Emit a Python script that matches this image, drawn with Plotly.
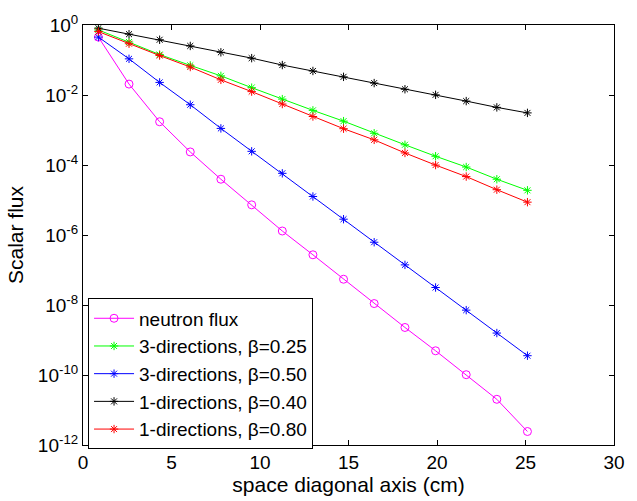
import plotly.graph_objects as go

# x positions along the space diagonal (cm)
x_cm = [0.87, 2.60, 4.33, 6.06, 7.79, 9.53, 11.26, 12.99, 14.72, 16.45,
        18.19, 19.92, 21.65, 23.38, 25.11]

neutron_flux = [0.45, 2.05e-2, 1.72e-3, 2.36e-4, 3.92e-5, 7.28e-6, 1.30e-6,
                2.72e-7, 5.45e-8, 1.10e-8, 2.28e-9, 4.92e-10, 1.02e-10,
                2.02e-11, 2.43e-12]
dir3_b025 = [0.723, 0.326, 0.143, 0.0703, 0.0352, 0.0162, 7.63e-3, 3.64e-3,
             1.79e-3, 8.07e-4, 3.78e-4, 1.78e-4, 8.75e-5, 3.92e-5, 1.89e-5]
dir3_b050 = [0.451, 0.108, 0.0229, 5.27e-3, 1.11e-3, 2.46e-4, 5.78e-5,
             1.26e-5, 2.83e-6, 6.22e-7, 1.40e-7, 3.16e-8, 7.13e-9, 1.58e-9,
             3.56e-10]
dir1_b040 = [0.81, 0.547, 0.379, 0.252, 0.166, 0.113, 0.0717, 0.0486, 0.033,
             0.0219, 0.0146, 0.0101, 6.7e-3, 4.43e-3, 3.08e-3]
dir1_b080 = [0.648, 0.292, 0.134, 0.063, 0.0271, 0.0125, 5.52e-3, 2.43e-3,
             1.09e-3, 5.23e-4, 2.21e-4, 9.95e-5, 4.67e-5, 1.97e-5, 8.67e-6]

series_names = ["neutron flux", "3-directions, \u03b2=0.25",
                "3-directions, \u03b2=0.50", "1-directions, \u03b2=0.40",
                "1-directions, \u03b2=0.80"]
series_data = [neutron_flux, dir3_b025, dir3_b050, dir1_b040, dir1_b080]
series_colors = ["#FF00FF", "#00FF00", "#0000FF", "#000000", "#FF0000"]
series_symbols = ["circle-open", "asterisk-open", "asterisk-open",
                  "asterisk-open", "asterisk-open"]
series_sizes = [8, 7, 7, 7, 7]

x_ticks = [0, 5, 10, 15, 20, 25, 30]
y_exps = [0, -2, -4, -6, -8, -10, -12]

FONT = "Arial, Liberation Sans, sans-serif"

fig = go.Figure()
for name, ys, col, sym, sz in zip(series_names, series_data, series_colors,
                                  series_symbols, series_sizes):
    fig.add_trace(go.Scatter(
        x=x_cm, y=ys, name=name, mode="lines+markers",
        legendgroup=name,
        line=dict(color=col, width=1),
        marker=dict(symbol=sym, size=sz, color=col, line=dict(color=col, width=1)),
    ))

fig.update_layout(
    width=637, height=501,
    margin=dict(l=83, r=12, t=20, b=54),
    paper_bgcolor="white", plot_bgcolor="white",
    font=dict(family=FONT, size=19, color="black"),
    showlegend=True,
    legend=dict(
        x=0.0095, y=0.349, xanchor="left", yanchor="top",
        bgcolor="white", bordercolor="black", borderwidth=1,
        font=dict(family=FONT, size=19, color="black"),
        tracegroupgap=0, itemwidth=40,
    ),
    xaxis=dict(
        range=[0, 30], tickvals=x_ticks, ticktext=[str(v) for v in x_ticks],
        showline=True, linecolor="black", linewidth=1, mirror="ticks",
        ticks="inside", ticklen=5, tickcolor="black",
        showgrid=False, zeroline=False,
        title=dict(text="space diagonal axis (cm)", standoff=2,
                   font=dict(family=FONT, size=21)),
        tickfont=dict(family=FONT, size=19),
    ),
    yaxis=dict(
        type="log", range=[-12, 0],
        tickvals=[10 ** e for e in y_exps],
        ticktext=["10<sup>%d</sup>" % e for e in y_exps],
        showline=True, linecolor="black", linewidth=1, mirror="ticks",
        ticks="inside", ticklen=5, tickcolor="black",
        showgrid=False, zeroline=False,
        title=dict(text="Scalar flux", standoff=8,
                   font=dict(family=FONT, size=21)),
        tickfont=dict(family=FONT, size=19),
    ),
)

fig.write_html("out.html")
